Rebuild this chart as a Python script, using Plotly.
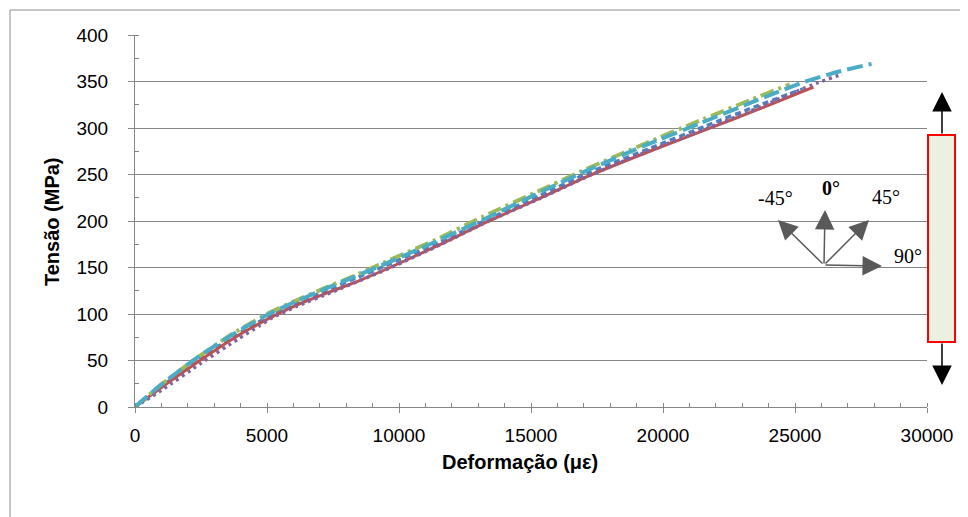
import plotly.graph_objects as go

# ---------------- data ----------------
red_x = [0, 1000, 2460, 3800, 4600, 5190, 6000, 7400, 8500, 9660, 11500, 13330, 15300, 17230, 19500, 21700, 23700, 25700]
red_y = [0, 21, 50, 75, 88, 97, 108, 124, 136, 150, 174, 199, 224, 249, 275, 299, 321, 344]

blue_x = [0, 1000, 2400, 3800, 4600, 5100, 6000, 7300, 8400, 9500, 11500, 13300, 15300, 17200, 19500, 21600, 23600, 25300]
blue_y = [0, 22, 51, 77, 90, 98, 110, 126, 139, 152, 177, 201, 227, 252, 278, 302, 324, 342]

green_x = [0, 900, 2300, 3700, 4500, 5000, 5900, 7200, 8300, 9400, 11400, 13200, 15200, 17100, 19300, 21400, 23300, 24800]
green_y = [0, 22, 52, 79, 92, 100, 112, 128, 141, 155, 180, 205, 231, 256, 283, 308, 330, 347]

purple_x = [0, 1000, 2500, 3900, 4700, 5200, 6100, 7500, 8600, 9700, 11600, 13400, 15400, 17300, 19600, 21800, 23800, 25800, 26800]
purple_y = [0, 18, 47, 73, 87, 96, 108, 124, 137, 150, 175, 200, 225, 250, 277, 301, 324, 348, 358]

cyan_x = [0, 900, 2300, 3700, 4500, 5000, 5900, 7200, 8300, 9400, 11400, 13300, 15200, 17100, 19300, 21400, 23400, 25400, 26700, 27900]
cyan_y = [0, 22, 52, 78, 91, 99, 111, 127, 140, 153, 178, 203, 229, 254, 281, 305, 328, 350, 361, 369]

x_title = "Deformação (με)"
y_title = "Tensão (MPa)"
angle_labels = ["-45°", "0°", "45°", "90°"]

# ---------------- layout helpers ----------------
OFF = 8                       # default page body margin
W, H = 968 - OFF, 517 - OFF
L, R, T, B = 135, 927, 35, 407   # plot area in screen pixels


def px(xp):
    return (xp - L) / (R - L)


def py(yp):
    return (B - yp) / (B - T)


fig = go.Figure()

series = [
    (blue_x, blue_y, "#4F81BD", "6px,4px", 3.5),
    (red_x, red_y, "#C0504D", "solid", 3),
    (green_x, green_y, "#9BBB59", "14px,5px,3px,5px", 4),
    (purple_x, purple_y, "#8064A2", "3px,4px", 3.5),
    (cyan_x, cyan_y, "#4BACC6", "16px,6px", 4),
]
for xs, ys, col, dash, w in series:
    fig.add_trace(go.Scatter(x=xs, y=ys, mode="lines", line=dict(color=col, dash=dash, width=w,
                                                                  shape="spline", smoothing=0.6),
                             showlegend=False, hoverinfo="skip"))

grey = "#868686"
fig.update_layout(
    width=W, height=H,
    margin=dict(l=L - OFF, r=W - (R - OFF), t=T - OFF, b=H - (B - OFF)),
    paper_bgcolor="white", plot_bgcolor="white",
    font=dict(family="Liberation Sans, Arial, sans-serif", color="black", size=19),
    xaxis=dict(range=[0, 30000], dtick=5000, tick0=0, tickformat="d", showgrid=False, zeroline=False,
               showline=True, linecolor=grey, linewidth=1,
               ticks="outside", ticklen=5, tickcolor=grey, tickwidth=1,
               minor=dict(dtick=1000, ticks="inside", ticklen=4, tickcolor=grey),
               tickfont=dict(size=19, color="black"), ticklabelstandoff=6),
    yaxis=dict(range=[0, 400], dtick=50, tick0=0, showgrid=True, gridcolor=grey, gridwidth=1,
               zeroline=False, showline=True, linecolor=grey, linewidth=1,
               ticks="outside", ticklen=6, tickcolor=grey, tickwidth=1,
               minor=dict(dtick=25, ticks="inside", ticklen=4, tickcolor=grey, showgrid=False),
               tickfont=dict(size=19, color="black"), ticklabelstandoff=16),
)

shapes = []
# outer border
shapes.append(dict(type="rect", xref="paper", yref="paper", x0=px(10), x1=px(1000), y0=py(10), y1=py(560),
                   line=dict(color="#8C8C8C", width=1), fillcolor="rgba(0,0,0,0)", layer="below"))
# specimen rectangle
shapes.append(dict(type="rect", xref="paper", yref="paper", x0=px(928), x1=px(955), y0=py(342), y1=py(135),
                   line=dict(color="#FF0000", width=2), fillcolor="#EBF1DE"))
fig.update_layout(shapes=shapes)

ann = []
# axis titles
ann.append(dict(text="<b>%s</b>" % y_title, xref="paper", yref="paper", x=px(52), y=py(222),
                textangle=-90, showarrow=False, font=dict(size=20, color="black"),
                xanchor="center", yanchor="middle"))
ann.append(dict(text="<b>%s</b>" % x_title, xref="paper", yref="paper", x=px(520), y=py(462),
                showarrow=False, font=dict(size=20, color="black"),
                xanchor="center", yanchor="middle"))

# rosette arrows (tip position, tail offset in pixels)
ox, oy = 824, 265
arrow_col = "#595959"
for tx, ty in [(825, 210), (778, 220), (869, 220), (882, 266)]:
    ann.append(dict(x=px(tx), y=py(ty), xref="paper", yref="paper", ax=ox - tx, ay=oy - ty,
                    axref="pixel", ayref="pixel", showarrow=True, arrowhead=2, arrowsize=2.6,
                    arrowwidth=1.5, arrowcolor=arrow_col, text=""))
# load arrows on specimen
for tip, tail in [(92, 135), (385, 342)]:
    ann.append(dict(x=px(942), y=py(tip), xref="paper", yref="paper", ax=0, ay=tail - tip,
                    axref="pixel", ayref="pixel", showarrow=True, arrowhead=2, arrowsize=2.6,
                    arrowwidth=1.5, arrowcolor="black", text=""))

serif = "Liberation Serif, Times New Roman, serif"
label_pos = [(775, 198, False), (831, 188, True), (886, 197, False), (908, 256, False)]
for lab, (lx, ly, bold) in zip(angle_labels, label_pos):
    ann.append(dict(text=("<b>%s</b>" % lab) if bold else lab, xref="paper", yref="paper",
                    x=px(lx), y=py(ly), showarrow=False, xanchor="center", yanchor="middle",
                    font=dict(family=serif, size=20, color="black")))

fig.update_layout(annotations=ann)
fig.write_html("out.html")
